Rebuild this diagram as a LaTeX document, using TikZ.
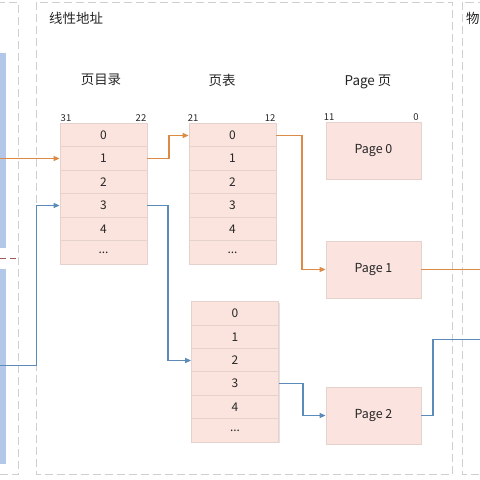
\documentclass[tikz,border=0pt]{standalone}
\usepackage{fontspec}
\setmainfont{Noto Sans CJK SC}
\usetikzlibrary{arrows.meta,shadows}
\definecolor{cellfill}{HTML}{FBE4DE}
\definecolor{celldraw}{HTML}{E6D2CD}
\definecolor{pagefill}{HTML}{FBE3E0}
\definecolor{shadowc}{HTML}{E4E1E0}
\definecolor{orangeln}{HTML}{DC8B47}
\definecolor{blueln}{HTML}{5B8BB6}
\definecolor{dashgray}{HTML}{CFCFCF}
\definecolor{barblue}{HTML}{B3C8E8}
\definecolor{reddash}{HTML}{A65A5A}
\definecolor{txt}{HTML}{262626}
\tikzset{
  cell/.style={rectangle,draw=celldraw,fill=cellfill,line width=0.8bp,minimum width=87bp,minimum height=23.5bp,inner sep=0pt,font=\fontsize{12}{12}\selectfont,text=txt,
    drop shadow={fill=shadowc,opacity=1,shadow xshift=1.2bp,shadow yshift=-1.2bp}},
  pagebox/.style={rectangle,draw=celldraw,fill=pagefill,line width=0.8bp,minimum width=95bp,minimum height=57bp,inner sep=0pt,font=\fontsize{12.5}{12.5}\selectfont,text=txt,
    drop shadow={fill=shadowc,opacity=1,shadow xshift=1.2bp,shadow yshift=-1.2bp}},
  title/.style={font=\fontsize{13.5}{13.5}\selectfont,text=txt,inner sep=0pt},
  bitlbl/.style={font=\fontsize{9.5}{9.5}\selectfont,text=txt,inner sep=0pt},
  dashline/.style={color=dashgray,line width=0.8bp,dash pattern=on 8bp off 4bp},
  oline/.style={color=orangeln,line width=1.3bp},
  bline/.style={color=blueln,line width=1.3bp},
  tip/.style={-{Triangle[length=6bp,width=5bp]}},
}
\newcommand{\dotsc}{...}
\begin{document}
\begin{tikzpicture}[x=1bp,y=-1bp]
\useasboundingbox (0,0) rectangle (480,480);
\clip (0,0) rectangle (480,480);
\fill[white] (0,0) rectangle (480,480);
% frames
\draw[dashline] (-20,2.5) rectangle (18.5,474.5);
\draw[dashline] (36.5,2.5) rectangle (452.5,474.5);
\draw[dashline] (462.5,2.5) rectangle (500,474.5);
% left bars
\fill[barblue] (0,53) rectangle (6,248);
\fill[barblue] (0,269) rectangle (6,464);
\draw[color=reddash,line width=0.8bp,dash pattern=on 6bp off 4bp] (0,258.5) -- (17,258.5);
% titles
\node[title,anchor=west] (lin) at (49,18) {线性地址};
\node[title,anchor=west] (phys) at (466,18) {物理地址};
\node[title] (tdir) at (101,80) {页目录};
\node[title] (ttab) at (222,80) {页表};
\node[title] (tpage) at (368,82) {Page 页};
% tables
\foreach \i/\y in {0/135.5,1/158.5,2/182,3/205.5,4/229}{
  \node[cell] (d\i) at (103.5,\y) {\i};
  \node[cell] (t\i) at (232.5,\y) {\i};
}
\foreach \i/\y in {0/313.5,1/337,2/360.5,3/383.5,4/407}{
  \node[cell] (u\i) at (235,\y) {\i};
}
\node[cell] (d5) at (103.5,252.5) {\dotsc};
\node[cell] (t5) at (232.5,252.5) {\dotsc};
\node[cell] (u5) at (235,430.5) {\dotsc};
\node[bitlbl] (b31) at (66,118) {31};
\node[bitlbl] (b22) at (141,118) {22};
\node[bitlbl] (b21) at (193,118) {21};
\node[bitlbl] (b12) at (270,118) {12};
\node[bitlbl] (b11) at (329,117) {11};
\node[bitlbl] (b0) at (416,117) {0};
% pages
\node[pagebox] (p0) at (373.5,150.5) {Page 0};
\node[pagebox] (p1) at (373.5,269.5) {Page 1};
\node[pagebox] (p2) at (373.5,415.5) {Page 2};
% connectors
\coordinate (inA) at (0,158.5);
\coordinate (inB) at (0,365.5);
\coordinate (outA) at (480,269.5);
\coordinate (outB) at (480,339.5);
\draw[oline,tip] (inA) -- (d1.west);
\draw[oline,tip] (d1.east) -- ++(21.5,0) |- (t0.west);
\draw[oline,tip] (t0.east) -- ++(25.5,0) |- (p1.west);
\draw[oline] (p1.east) -- (outA);
\draw[bline,tip] (inB) -- (36.5,365.5) |- (d3.west);
\draw[bline,tip] (d3.east) -- ++(20.5,0) |- (u2.west);
\draw[bline,tip] (u3.east) -- ++(24,0) |- (p2.west);
\draw[bline] (p2.east) -- ++(11.5,0) |- (outB);
\end{tikzpicture}
\end{document}
